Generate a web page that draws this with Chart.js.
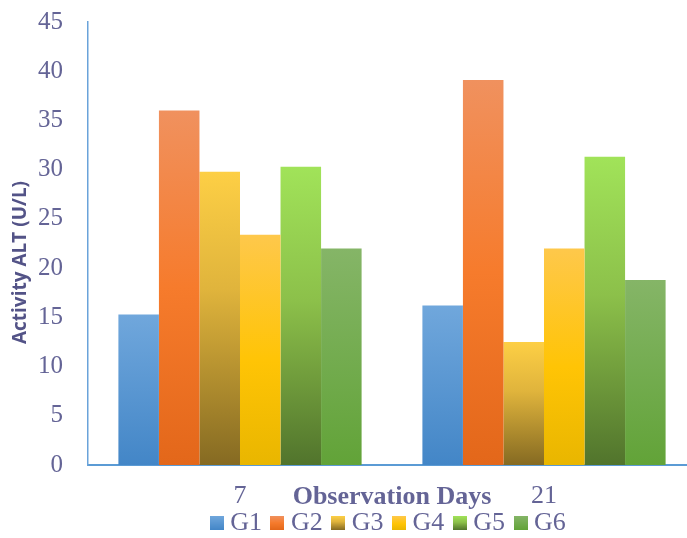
<!DOCTYPE html>
<html>
<head>
<meta charset="utf-8">
<script src="https://cdn.jsdelivr.net/npm/chart.js@4.4.1/dist/chart.umd.min.js"></script>
<style>
  html, body { margin: 0; padding: 0; overflow: hidden; background: #ffffff; }
  #wrap { width: 700px; height: 538px; position: relative; }
</style>
</head>
<body>
<div id="wrap"><canvas id="grafico"></canvas></div>
<script>
// datos
const dias = ["7", "21"];
const grupos = ["G1", "G2", "G3", "G4", "G5", "G6"];
const g1 = [15.3, 16.2];
const g2 = [36.0, 39.1];
const g3 = [29.8, 12.5];
const g4 = [23.4, 22.0];
const g5 = [30.3, 31.3];
const g6 = [22.0, 18.8];
const ticksY = [0, 5, 10, 15, 20, 25, 30, 35, 40, 45];

const serie = [g1, g2, g3, g4, g5, g6];

// colores del degradado (arriba -> abajo)
const degradados = [
  [[0, "#70a7dc"], [1, "#4386c7"]],
  [[0, "#f0915e"], [0.5, "#f67b2c"], [1, "#e3671a"]],
  [[0, "#fdcf45"], [0.4, "#e0b43c"], [1, "#856a22"]],
  [[0, "#fec84b"], [0.55, "#ffc405"], [1, "#e9b600"]],
  [[0, "#a1e359"], [0.45, "#8cc04a"], [1, "#51742c"]],
  [[0, "#85b567"], [1, "#62a338"]],
];

const colorTexto = "#646496";
const serif = "'Times New Roman', 'Liberation Serif', serif";

function crearDegradado(ctx, stops, y0, y1) {
  const g = ctx.createLinearGradient(0, y0, 0, y1);
  stops.forEach(function (s) { g.addColorStop(s[0], s[1]); });
  return g;
}

// cajitas de la leyenda (canvas de 14x14 con el degradado)
const cajas = degradados.map(function (stops) {
  const c = document.createElement("canvas");
  c.width = 14;
  c.height = 14;
  const cx = c.getContext("2d");
  cx.fillStyle = crearDegradado(cx, stops, 0, 14);
  cx.fillRect(0, 0, 14, 14);
  return c;
});

function fondo(i) {
  return function (context) {
    const chart = context.chart;
    if (!chart.chartArea || context.raw === undefined) {
      return degradados[i][0][1];
    }
    const y = chart.scales.y;
    const top = y.getPixelForValue(context.raw);
    const base = y.getPixelForValue(0);
    return crearDegradado(chart.ctx, degradados[i], top, base);
  };
}

const datasets = grupos.map(function (nombre, i) {
  return {
    label: nombre,
    data: serie[i],
    backgroundColor: fondo(i),
    pointStyle: cajas[i],
    borderWidth: 0,
    barPercentage: 1,
    categoryPercentage: 0.8,
  };
});

// acomodar la leyenda
const moverLeyenda = {
  id: "moverLeyenda",
  afterLayout: function (chart) {
    const l = chart.legend;
    l.left -= 1;
    l.right -= 1;
    l.top -= 13;
    l.bottom -= 13;
  },
};

const ctx = document.getElementById("grafico").getContext("2d");
new Chart(ctx, {
  type: "bar",
  data: { labels: dias, datasets: datasets },
  plugins: [moverLeyenda],
  options: {
    responsive: true,
    maintainAspectRatio: false,
    animation: false,
    layout: { padding: { top: 22, right: 4, left: 0, bottom: -21 } },
    plugins: {
      tooltip: { enabled: false },
      legend: {
        position: "bottom",
        fullSize: false,
        labels: {
          usePointStyle: true,
          boxWidth: 1,
          padding: 15,
          color: colorTexto,
          font: { family: serif, size: 26 },
        },
      },
    },
    scales: {
      x: {
        grid: { display: false, drawTicks: false },
        border: { display: true, color: "#5b9bd5", width: 2 },
        ticks: {
          color: colorTexto,
          padding: 16,
          font: { family: serif, size: 26 },
        },
        title: {
          display: true,
          text: "Observation Days",
          color: colorTexto,
          font: { family: serif, size: 26, weight: "bold", lineHeight: 1 },
          padding: { top: 0, bottom: -2 },
        },
        afterFit: function (scale) { scale.height = 43; },
      },
      y: {
        min: 0,
        max: 45,
        afterBuildTicks: function (scale) {
          scale.ticks = ticksY.map(function (v) { return { value: v }; });
        },
        grid: { display: false, drawTicks: false },
        border: { display: true, color: "#6aa3da", width: 1.5 },
        ticks: {
          color: colorTexto,
          padding: 25,
          font: { family: serif, size: 25 },
        },
        title: {
          display: true,
          text: "Activity ALT (U/L)\u2003\u2003",
          color: "#535387",
          font: { family: "'Open Sans', Lato, sans-serif", size: 19, weight: "bold" },
          padding: { top: 9, bottom: 0 },
        },
        afterFit: function (scale) {
          scale.width = 88;
          scale.paddingTop = 0;
          scale.paddingBottom = 0;
        },
      },
    },
  },
});
</script>
</body>
</html>
